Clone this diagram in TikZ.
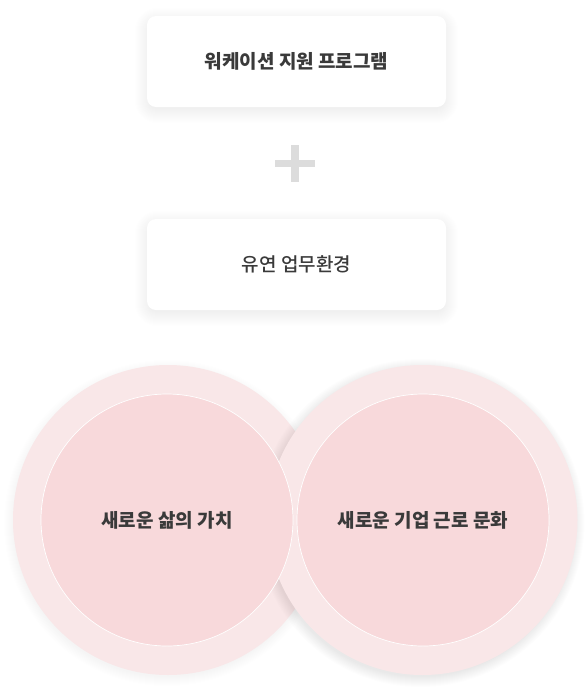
\documentclass[tikz,border=0pt]{standalone}
\usepackage{fontspec}
\setmainfont{Noto Sans CJK KR}
\newfontfamily\krmedium{Noto Sans CJK KR Medium}
\usepackage{tikz}
\usetikzlibrary{positioning}
\usepackage{xcolor}
\definecolor{inkgray}{HTML}{3A3A3A}
\definecolor{plusgray}{HTML}{DCDCDC}
\definecolor{ringpink}{HTML}{F9E7E8}
\definecolor{corepink}{HTML}{F8D9DB}
\tikzset{
  card/.style={rectangle, fill=white, rounded corners=9pt,
    minimum width=299pt, minimum height=91pt, inner sep=0pt,
    font=\fontsize{19}{22}\selectfont\krmedium, text=inkgray},
  cardB/.style={card, font=\fontsize{19}{22}\selectfont\bfseries},
  haze/.style={fill=black, opacity=0.005},
  ring/.style={circle, fill=ringpink, minimum size=310pt, inner sep=0pt},
  core/.style={circle, fill=corepink, draw=white, line width=0.7pt,
    minimum size=252pt, inner sep=0pt, text=inkgray,
    font=\fontsize{19}{22}\selectfont\bfseries},
}

\begin{document}
\begin{tikzpicture}[x=1pt, y=1pt]
  \useasboundingbox[fill=white] (0,0) rectangle (588,-688);
  \coordinate (progc) at (296.5,-61.5);
  \coordinate (flexc) at (296.5,-264.5);

  % soft shadows under the cards
  \foreach \c in {progc, flexc}
    \foreach \i in {-2,...,12}
      \fill[haze, rounded corners=10+\i]
        ([shift={(-149.5-\i,-45.5-\i-4)}]\c) rectangle
        ([shift={(149.5+\i,45.5+\i-4)}]\c);

  % program and work environment
  \node[cardB] (prog) at (progc) {워케이션 지원 프로그램};
  \node[card]  (flex) at (flexc) {유연 업무환경};

  % plus sign
  \fill[plusgray] (275,-160) rectangle (315,-167);
  \fill[plusgray] (291,-145) rectangle (299,-182);

  % two values
  \foreach \i in {-1,...,8}
    \fill[haze] (167,-523) circle (155+\i);
  \node[ring] (lifering) at (168,-520) {};
  \foreach \i in {-1,...,9}
    \fill[haze, opacity=0.008] (420.5,-523) circle (155+\i);
  \node[ring] (workring) at (422.5,-520) {};
  \node[core] (life) at (167,-520) {새로운 삶의 가치};
  \node[core] (work) at (423,-520) {새로운 기업 근로 문화};
\end{tikzpicture}
\end{document}
